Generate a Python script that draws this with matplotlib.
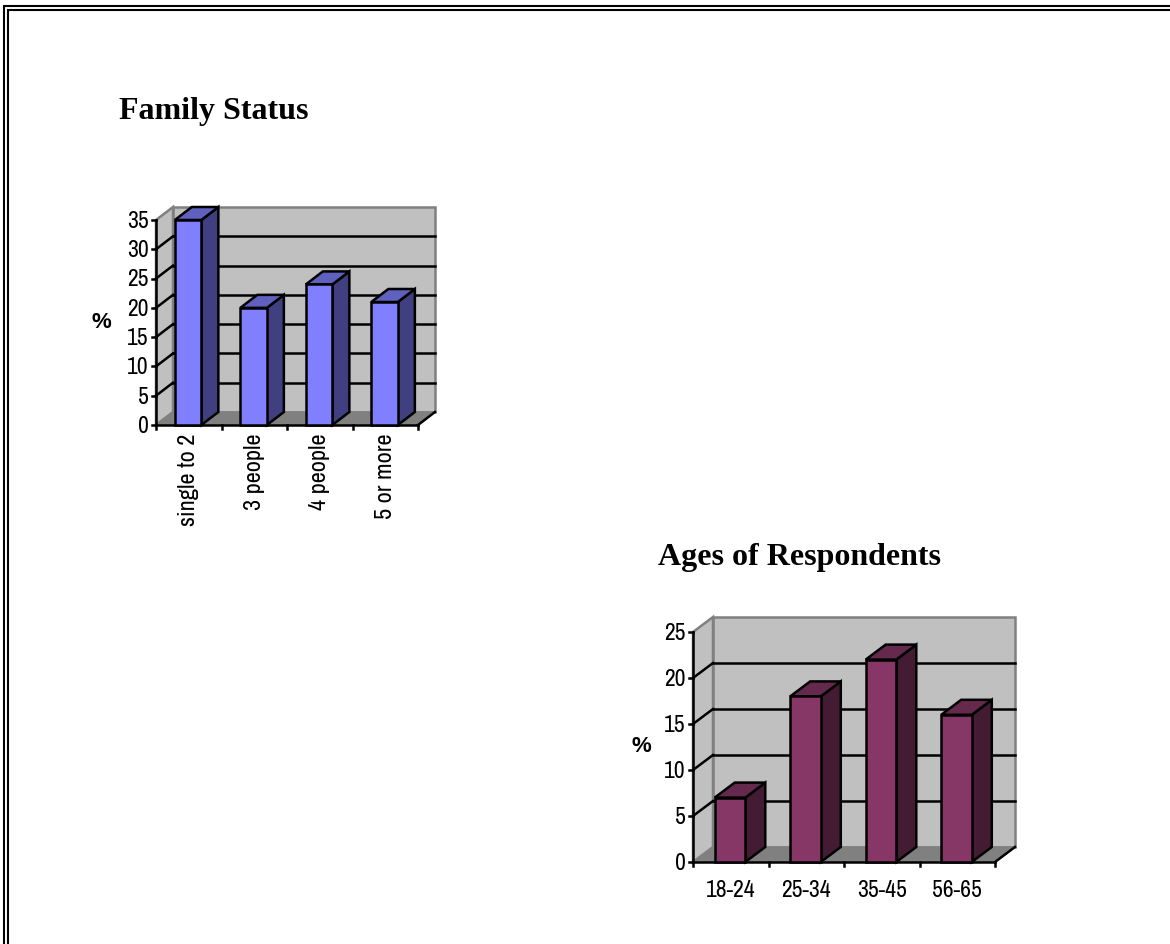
#! /usr/bin/env python
# coding: utf-8
"""Two pseudo 3D bar charts from a survey page."""

import matplotlib
matplotlib.use('Agg')
import matplotlib.pyplot as plt
from matplotlib import font_manager
from matplotlib.lines import Line2D
from matplotlib.patches import Polygon

FAMILY_CATS = ['single to 2', '3 people', '4 people', '5 or more']
FAMILY_VALS = [35, 20, 24, 21]
FAMILY_TICKS = [0, 5, 10, 15, 20, 25, 30, 35]

AGE_CATS = ['18-24', '25-34', '35-45', '56-65']
AGE_VALS = [7, 18, 22, 16]
AGE_TICKS = [0, 5, 10, 15, 20, 25]

W, H = 1170, 944
TC = 'black'
LW = 1.8

# Arial Narrow look, use what is there
_have = {f.name for f in font_manager.fontManager.ttflist}
NARROW = [n for n in ('Liberation Sans Narrow', 'Archivo Narrow', 'PT Sans Narrow',
                      'Pragati Narrow', 'Liberation Sans') if n in _have] + ['DejaVu Sans']


def add_axes_px(fig, left, right, top, bottom):
    """Axes placed from pixel edges, y measured from the top."""
    return fig.add_axes([left / W, 1 - bottom / H, (right - left) / W, (bottom - top) / H])


def poly(ax, pts, color, edge=None, lw=LW, z=2):
    ax.add_patch(Polygon(pts, closed=True, facecolor=color, edgecolor=edge or 'none',
                         linewidth=lw, zorder=z, clip_on=False, joinstyle='miter'))


def bar3d(fig, box, depth, cats, vals, ticks, colors, rotate, fs):
    """Draw the walls, floor and bars on an axes that is the front plane."""
    left, right, top, bottom = box
    ax = add_axes_px(fig, left, right, top, bottom)
    ymax = ticks[-1]
    n = len(cats)
    ax.set_xlim(0, n)
    ax.set_ylim(0, ymax)
    ax.axis('off')

    # depth in data units
    dx = depth[0] / (right - left) * n
    dy = depth[1] / (bottom - top) * ymax

    # back wall, side wall, floor
    poly(ax, [(dx, dy), (n + dx, dy), (n + dx, ymax + dy), (dx, ymax + dy)],
         '#c0c0c0', '#808080', LW, 1)
    poly(ax, [(0, 0), (dx, dy), (dx, ymax + dy), (0, ymax)], '#c0c0c0', '#808080', LW, 1)
    poly(ax, [(0, 0), (n, 0), (n + dx, dy), (dx, dy)], '#808080', '#808080', 1, 1.2)

    for t in ticks[1:-1]:
        ax.plot([dx, n + dx], [t + dy, t + dy], color=TC, lw=LW, zorder=1.5, clip_on=False)
        ax.plot([0, dx], [t, t + dy], color=TC, lw=LW, zorder=1.5, clip_on=False)

    # axis lines and ticks
    tick_x = 4.0 / (right - left) * n
    tick_y = 4.0 / (bottom - top) * ymax
    ax.plot([0, 0], [0, ymax], color=TC, lw=LW, zorder=3, clip_on=False)
    ax.plot([0, n], [0, 0], color=TC, lw=LW, zorder=3, clip_on=False)
    ax.plot([n, n + dx], [0, dy], color=TC, lw=LW, zorder=1.6, clip_on=False)
    for t in ticks:
        ax.plot([-tick_x, 0], [t, t], color=TC, lw=LW, zorder=3, clip_on=False)
        ax.text(-tick_x * 1.8, t - tick_y * 0.35, str(t), ha='right', va='center', fontsize=fs,
                family=NARROW, color=TC)
    for i in range(n + 1):
        ax.plot([i, i], [-tick_y, 0], color=TC, lw=LW, zorder=3, clip_on=False)

    # bars
    width = 0.405
    for i, (cat, val) in enumerate(zip(cats, vals)):
        x0 = i + 0.49 - width / 2
        x1 = x0 + width
        poly(ax, [(x1, 0), (x1 + dx, dy), (x1 + dx, val + dy), (x1, val)], colors[2], TC, LW, 4)
        poly(ax, [(x0, val), (x1, val), (x1 + dx, val + dy), (x0 + dx, val + dy)], colors[1], TC, LW, 4)
        poly(ax, [(x0, 0), (x1, 0), (x1, val), (x0, val)], colors[0], TC, LW, 5)
        if rotate:
            ax.text(i + 0.5, -tick_y * 2.2, cat, rotation=90, ha='center', va='top',
                    fontsize=fs + 0.5, family=NARROW, color=TC)
        else:
            ax.text(i + 0.5, -tick_y * 4.5, cat, ha='center', va='top',
                    fontsize=fs, family=NARROW, color=TC)
    return ax


fig = plt.figure(figsize=(W / 100, H / 100), dpi=100, facecolor='white')

# double page border, the page only shows it on the left and top
for xoff, yoff in ((3.8, 5.8), (7.8, 10)):
    fig.add_artist(Line2D([xoff / W, xoff / W, 1], [0, 1 - yoff / H, 1 - yoff / H],
                          color='black', lw=1.5, solid_joinstyle='miter'))

fig.text(119 / W, 1 - 112 / H, 'Family Status', family='Liberation Serif', weight='bold',
         fontsize=23, va='center', color='black')
fig.text(658 / W, 1 - 558 / H, 'Ages of Respondents', family='Liberation Serif', weight='bold',
         fontsize=23, va='center', color='black')
fig.text(101 / W, 1 - 322 / H, '%', family='Liberation Sans', weight='bold', fontsize=16,
         ha='center', va='center', color='black')
fig.text(641 / W, 1 - 747 / H, '%', family='Liberation Sans', weight='bold', fontsize=16,
         ha='center', va='center', color='black')

bar3d(fig, (156, 418, 220, 425), (17, 13), FAMILY_CATS, FAMILY_VALS, FAMILY_TICKS,
      ('#8080ff', '#6060bf', '#404080'), True, 17)
bar3d(fig, (693, 995, 632, 862), (20, 15), AGE_CATS, AGE_VALS, AGE_TICKS,
      ('#863766', '#65294d', '#431c33'), False, 17)

plt.savefig('out.png', dpi=100)
plt.close()
